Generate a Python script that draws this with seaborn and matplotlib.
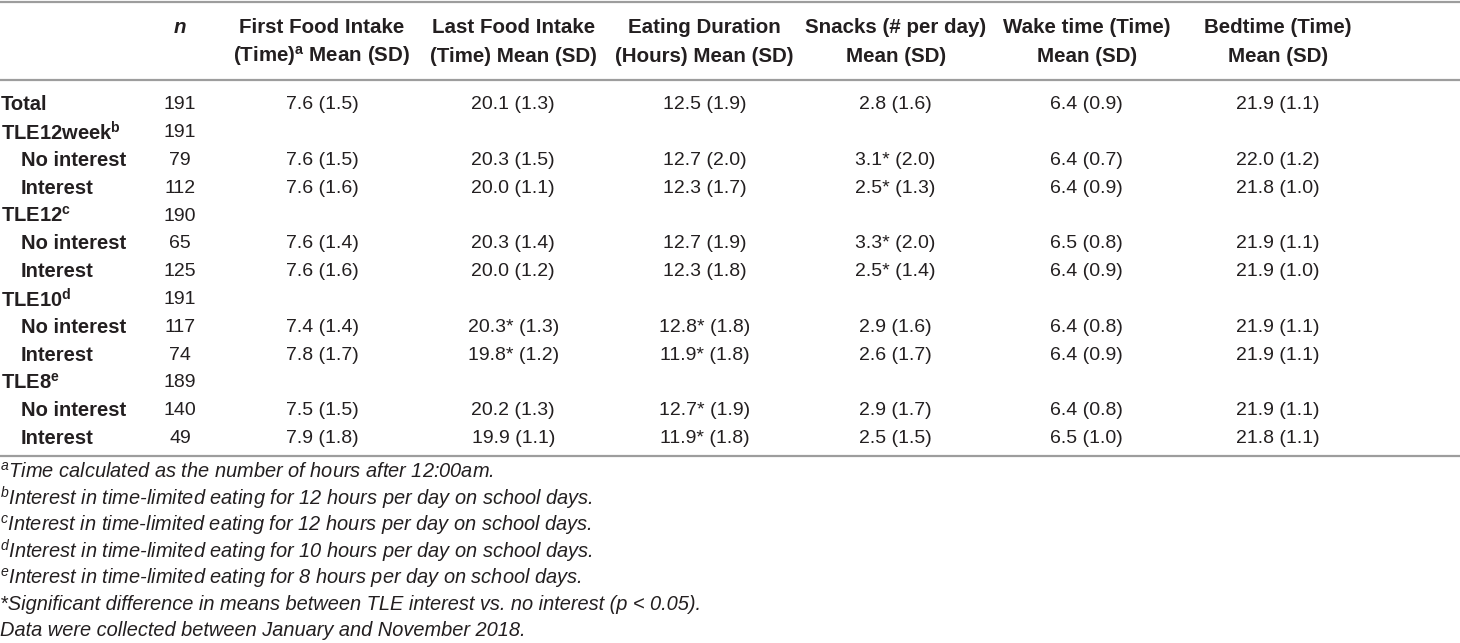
import numpy as np
import pandas as pd
import matplotlib
matplotlib.use("Agg")
import matplotlib.pyplot as plt
from matplotlib.colors import ListedColormap
import seaborn as sns

# ---------------- data ----------------
row_labels = ["Total", "TLE12week", "No interest", "Interest", "TLE12", "No interest",
              "Interest", "TLE10", "No interest", "Interest", "TLE8", "No interest", "Interest"]
row_sup = ["", "b", "", "", "c", "", "", "d", "", "", "e", "", ""]
row_level = [0, 0, 1, 1, 0, 1, 1, 0, 1, 1, 0, 1, 1]
n_values = [191, 191, 79, 112, 190, 65, 125, 191, 117, 74, 189, 140, 49]

header_line1 = ["First Food Intake", "Last Food Intake", "Eating Duration",
                "Snacks (# per day)", "Wake time (Time)", "Bedtime (Time)"]
header_line2 = ["(Time)$^\\mathbf{a}$ Mean (SD)", "(Time) Mean (SD)", "(Hours) Mean (SD)",
                "Mean (SD)", "Mean (SD)", "Mean (SD)"]

nan = np.nan
first_mean = [7.6, nan, 7.6, 7.6, nan, 7.6, 7.6, nan, 7.4, 7.8, nan, 7.5, 7.9]
first_sd = [1.5, nan, 1.5, 1.6, nan, 1.4, 1.6, nan, 1.4, 1.7, nan, 1.5, 1.8]
first_sig = [0, 0, 0, 0, 0, 0, 0, 0, 0, 0, 0, 0, 0]

last_mean = [20.1, nan, 20.3, 20.0, nan, 20.3, 20.0, nan, 20.3, 19.8, nan, 20.2, 19.9]
last_sd = [1.3, nan, 1.5, 1.1, nan, 1.4, 1.2, nan, 1.3, 1.2, nan, 1.3, 1.1]
last_sig = [0, 0, 0, 0, 0, 0, 0, 0, 1, 1, 0, 0, 0]

dur_mean = [12.5, nan, 12.7, 12.3, nan, 12.7, 12.3, nan, 12.8, 11.9, nan, 12.7, 11.9]
dur_sd = [1.9, nan, 2.0, 1.7, nan, 1.9, 1.8, nan, 1.8, 1.8, nan, 1.9, 1.8]
dur_sig = [0, 0, 0, 0, 0, 0, 0, 0, 1, 1, 0, 1, 1]

snack_mean = [2.8, nan, 3.1, 2.5, nan, 3.3, 2.5, nan, 2.9, 2.6, nan, 2.9, 2.5]
snack_sd = [1.6, nan, 2.0, 1.3, nan, 2.0, 1.4, nan, 1.6, 1.7, nan, 1.7, 1.5]
snack_sig = [0, 0, 1, 1, 0, 1, 1, 0, 0, 0, 0, 0, 0]

wake_mean = [6.4, nan, 6.4, 6.4, nan, 6.5, 6.4, nan, 6.4, 6.4, nan, 6.4, 6.5]
wake_sd = [0.9, nan, 0.7, 0.9, nan, 0.8, 0.9, nan, 0.8, 0.9, nan, 0.8, 1.0]
wake_sig = [0, 0, 0, 0, 0, 0, 0, 0, 0, 0, 0, 0, 0]

bed_mean = [21.9, nan, 22.0, 21.8, nan, 21.9, 21.9, nan, 21.9, 21.9, nan, 21.9, 21.8]
bed_sd = [1.1, nan, 1.2, 1.0, nan, 1.1, 1.0, nan, 1.1, 1.1, nan, 1.1, 1.1]
bed_sig = [0, 0, 0, 0, 0, 0, 0, 0, 0, 0, 0, 0, 0]

footnotes = ["$^{a}$Time calculated as the number of hours after 12:00am.",
             "$^{b}$Interest in time-limited eating for 12 hours per day on school days.",
             "$^{c}$Interest in time-limited eating for 12 hours per day on school days.",
             "$^{d}$Interest in time-limited eating for 10 hours per day on school days.",
             "$^{e}$Interest in time-limited eating for 8 hours per day on school days.",
             "*Significant difference in means between TLE interest vs. no interest (p < 0.05).",
             "Data were collected between January and November 2018."]

# ---------------- styling ----------------
sns.set_theme(style="white")
plt.rcParams["font.family"] = ["Liberation Sans", "DejaVu Sans"]
plt.rcParams["mathtext.fontset"] = "custom"
plt.rcParams["mathtext.rm"] = "Liberation Sans"
plt.rcParams["mathtext.bf"] = "Liberation Sans:bold"
plt.rcParams["mathtext.it"] = "Liberation Sans:italic"
TXT = "#231f20"
RULE = "#9d9d9d"

W, H = 1460, 643
fig = plt.figure(figsize=(W / 100, H / 100), dpi=100)

# overlay axes in pixel-like units
ax = fig.add_axes([0, 0, 1, 1])
ax.set_xlim(0, W)
ax.set_ylim(H, 0)
ax.axis("off")

# build cell strings
def fmt_col(means, sds, sigs):
    out = []
    for m, s, g in zip(means, sds, sigs):
        if np.isnan(m):
            out.append("")
        else:
            out.append(f"{m:.1f}{'*' if g else ''} ({s:.1f})")
    return out

cells = pd.DataFrame({
    header_line1[0]: fmt_col(first_mean, first_sd, first_sig),
    header_line1[1]: fmt_col(last_mean, last_sd, last_sig),
    header_line1[2]: fmt_col(dur_mean, dur_sd, dur_sig),
    header_line1[3]: fmt_col(snack_mean, snack_sd, snack_sig),
    header_line1[4]: fmt_col(wake_mean, wake_sd, wake_sig),
    header_line1[5]: fmt_col(bed_mean, bed_sd, bed_sig),
})

# layout
row_top = 89.0
row_h = 27.8
n_rows = len(row_labels)
col_left, col_w = 226.4, 191.2
hm_bottom = row_top + row_h * n_rows

hax = fig.add_axes([col_left / W, 1 - hm_bottom / H, col_w * 6 / W, row_h * n_rows / H])
sns.heatmap(np.zeros(cells.shape), annot=cells.values, fmt="", cmap=ListedColormap(["white"]),
            cbar=False, xticklabels=False, yticklabels=False, ax=hax,
            annot_kws=dict(fontsize=14, color=TXT, va="center_baseline"))
hax.patch.set_alpha(0)

# column headers, two lines, aligned on baselines
for k, (l1, l2) in enumerate(zip(header_line1, header_line2)):
    xc = col_left + col_w * (k + 0.5)
    ax.text(xc, 33, l1, fontsize=14.8, fontweight="bold", color=TXT, ha="center", va="baseline")
    ax.text(xc, 62, l2, fontsize=14.8, fontweight="bold", color=TXT, ha="center", va="baseline")

# rules
for y in [1.5, 80, 456]:
    ax.axhline(y, color=RULE, lw=1.6)

# n header and values
ax.text(180, 33, "n", fontsize=14.8, fontweight="bold", style="italic", color=TXT,
        ha="center", va="baseline")
for i, (lab, sup, lvl, n) in enumerate(zip(row_labels, row_sup, row_level, n_values)):
    y = row_top + row_h * (i + 0.5)
    s = lab + (f"$^\\mathbf{{{sup}}}$" if sup else "")
    ax.text(1 if lvl == 0 else 21, y, s, fontsize=14.5, fontweight="bold", color=TXT,
            ha="left", va="center_baseline")
    ax.text(180, y, str(n), fontsize=14, color=TXT, ha="center", va="center_baseline")

# footnotes
for k, t in enumerate(footnotes):
    ax.text(0, 472 + 26.5 * k, t, fontsize=14.4, style="italic", color=TXT,
            ha="left", va="center")

fig.savefig("out.png", dpi=100)
